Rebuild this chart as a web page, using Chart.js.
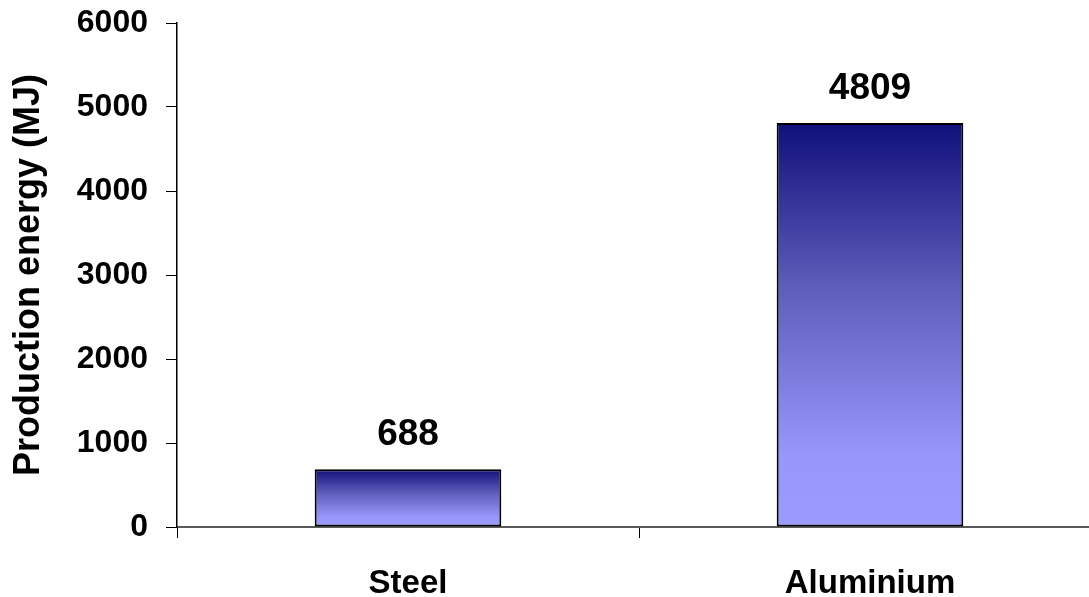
<!DOCTYPE html>
<html>
<head>
<meta charset="utf-8">
<script src="https://cdn.jsdelivr.net/npm/chart.js@4/dist/chart.umd.min.js"></script>
<style>
html,body{margin:0;padding:0;background:#fff;overflow:hidden;width:1089px;height:597px;}
#wrap{position:absolute;left:0;top:0;width:1101px;height:597px;}
</style>
</head>
<body>
<div id="wrap"><canvas id="c" width="1101" height="597"></canvas></div>
<script>
const categories = ["Steel", "Aluminium"];
const energyValues = [688, 4809];
const yTicks = [0, 1000, 2000, 3000, 4000, 5000, 6000];
const yTitle = "Production energy (MJ)";

const FONT = "'Liberation Sans', Arial, sans-serif";

function barGradient(ctx) {
  const chart = ctx.chart;
  if (!chart.chartArea || ctx.parsed === undefined) return '#6464c0';
  const ys = chart.scales.y;
  const top = ys.getPixelForValue(ctx.parsed.y);
  const base = ys.getPixelForValue(0);
  const g = chart.ctx.createLinearGradient(0, top, 0, base);
  g.addColorStop(0, '#10107a');
  g.addColorStop(0.4, '#5c5cba');
  g.addColorStop(0.82, '#9797fb');
  g.addColorStop(1, '#9a9aff');
  return g;
}

const valueLabels = {
  id: 'valueLabels',
  afterDatasetsDraw(chart) {
    const c = chart.ctx;
    const meta = chart.getDatasetMeta(0);
    c.save();
    c.font = "bold 37px " + FONT;
    c.fillStyle = '#000';
    c.textAlign = 'center';
    c.textBaseline = 'alphabetic';
    meta.data.forEach((bar, i) => {
      c.fillText(String(energyValues[i]), bar.x, bar.y - 24);
    });
    c.restore();
  }
};

new Chart(document.getElementById('c'), {
  type: 'bar',
  data: {
    labels: categories,
    datasets: [{
      data: energyValues,
      backgroundColor: barGradient,
      borderColor: '#000',
      borderWidth: 2,
      borderSkipped: false,
      barPercentage: 0.404,
      categoryPercentage: 1.0
    }]
  },
  options: {
    responsive: false,
    animation: false,
    layout: { padding: { top: 23, right: 0, left: 0, bottom: 0 } },
    plugins: { legend: { display: false }, tooltip: { enabled: false } },
    scales: {
      x: {
        offset: true,
        grid: { offset: true, drawOnChartArea: false, drawTicks: true, tickLength: 11, color: '#000', lineWidth: 1 },
        border: { display: true, color: '#595959', width: 2 },
        ticks: { color: '#000', font: { family: FONT, size: 33, weight: 'bold' }, padding: 26 },
        afterFit(s) { s.height = 70; s.paddingLeft = 0; s.paddingRight = 0; }
      },
      y: {
        min: 0, max: 6000,
        afterBuildTicks(s) { s.ticks = yTicks.map(v => ({ value: v })); },
        grid: { drawOnChartArea: false, drawTicks: true, tickLength: 11, color: '#000', lineWidth: 1 },
        border: { display: true, color: '#000', width: 1.5 },
        ticks: { color: '#000', font: { family: FONT, size: 32, weight: 'bold' }, padding: 18, callback: v => String(v) },
        title: { display: true, text: yTitle, color: '#000', font: { family: FONT, size: 36, weight: 'bold' }, padding: { top: 7, bottom: 0 } },
        afterFit(s) { s.width = 177; s.paddingTop = 0; s.paddingBottom = 0; }
      }
    }
  },
  plugins: [valueLabels]
});
</script>
</body>
</html>
